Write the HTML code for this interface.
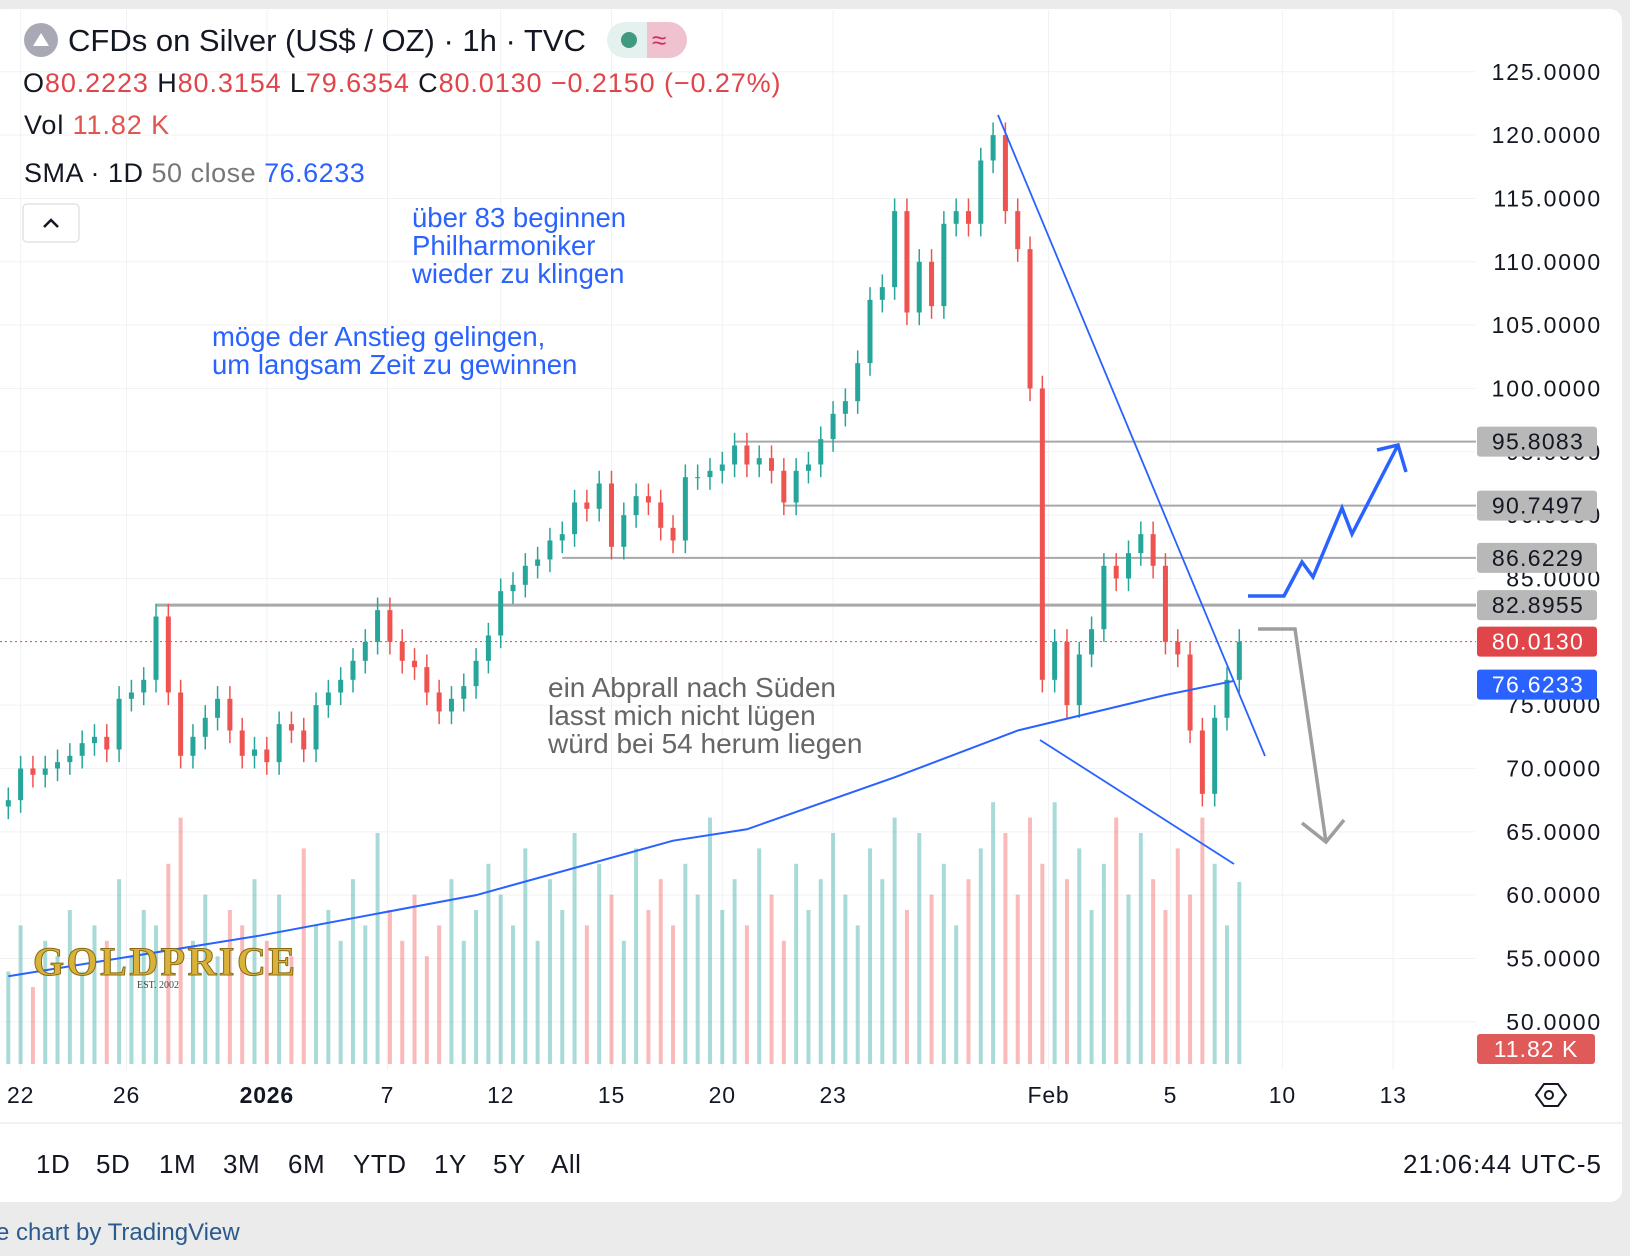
<!DOCTYPE html>
<html><head><meta charset="utf-8"><style>
body{margin:0;background:#ebebeb;width:1630px;height:1256px;overflow:hidden;font-family:"Liberation Sans",sans-serif}
svg{position:absolute;left:0;top:0}
</style></head><body>
<svg id="c" width="1630" height="1256" xmlns="http://www.w3.org/2000/svg">
<rect x="0" y="0" width="1630" height="1256" fill="#ebebeb"/>
<rect x="-10" y="9" width="1632" height="1193" rx="12" fill="#fff"/>
<g id="grid"></g>
<g id="vol"></g>
<g id="hl"></g>
<g id="candles"></g>
<g id="draw"></g>
<g id="axis"></g>
<g id="taxis"></g>
<g font-size="31">
<circle cx="41" cy="40" r="17" fill="#a9a9b5"/>
<path d="M33 46 L41 33 L49 46 Z" fill="#fff"/>
<text x="68" y="51" fill="#131722">CFDs on Silver (US$ / OZ) · 1h · TVC</text>
<rect x="607" y="22" width="80" height="36" rx="18" fill="#e4f1ee"/>
<path d="M647 22 h22 a18 18 0 0 1 0 36 h-22 Z" fill="#f0c2cf"/>
<circle cx="629" cy="40" r="8" fill="#3f9a80"/>
<text x="652" y="49" fill="#cc2f5f" font-size="26">≈</text>
</g>
<g font-size="27" letter-spacing="0.9">
<text x="23" y="92" fill="#131722">O<tspan fill="#e0454a">80.2223</tspan> H<tspan fill="#e0454a">80.3154</tspan> L<tspan fill="#e0454a">79.6354</tspan> C<tspan fill="#e0454a">80.0130</tspan> <tspan fill="#e0454a">−0.2150 (−0.27%)</tspan></text>
<text x="24" y="134" fill="#131722">Vol  <tspan fill="#e0554f">11.82 K</tspan></text>
<text x="24" y="182" fill="#131722" letter-spacing="0.5">SMA · 1D <tspan fill="#777">50 close</tspan>  <tspan fill="#2962ff">76.6233</tspan></text>
</g>
<rect x="23" y="204" width="56" height="38" rx="4" fill="#fff" stroke="#d6d6d6"/>
<path d="M44 227 L51 220 L58 227" fill="none" stroke="#131722" stroke-width="2.5"/>
<g font-size="27.5" fill="#2962ff">
<text x="412" y="227">über 83 beginnen</text><text x="412" y="255">Philharmoniker</text><text x="412" y="283">wieder zu klingen</text>
</g>
<g font-size="27.5" fill="#2962ff">
<text x="212" y="346">möge der Anstieg gelingen,</text><text x="212" y="374">um langsam Zeit zu gewinnen</text>
</g>
<g font-size="28" fill="#666">
<text x="548" y="697">ein Abprall nach Süden</text><text x="548" y="725">lasst mich nicht lügen</text><text x="548" y="753">würd bei 54 herum liegen</text>
</g>
<g>
<text x="33" y="975" font-family="Liberation Serif,serif" font-weight="bold" font-size="40" fill="#d9b23a" stroke="#8a6a12" stroke-width="1" textLength="262">GOLDPRICE</text>
<text x="137" y="988" font-family="Liberation Serif,serif" font-size="10" fill="#444">EST. 2002</text>
</g>
<line x1="0" y1="1123" x2="1622" y2="1123" stroke="#e0e3eb"/>
<g font-size="26" fill="#131722" letter-spacing="0.5">
<text x="36" y="1173">1D</text>
<text x="96" y="1173">5D</text>
<text x="159" y="1173">1M</text>
<text x="223" y="1173">3M</text>
<text x="288" y="1173">6M</text>
<text x="353" y="1173">YTD</text>
<text x="434" y="1173">1Y</text>
<text x="493" y="1173">5Y</text>
<text x="551" y="1173">All</text>
<text x="1602" y="1173" text-anchor="end" letter-spacing="1">21:06:44 UTC-5</text>
</g>
<text x="-4" y="1240" font-size="24" fill="#2a5b8c">e chart by TradingView</text>
<g><path d="M1536 1095 l8 -11 h14 l8 11 l-8 11 h-14 z" fill="none" stroke="#131722" stroke-width="2"/><circle cx="1549" cy="1095" r="4" fill="none" stroke="#131722" stroke-width="2"/></g>
</svg>
<script>
const closes=[67.5,70,69.5,70,70.5,71,72,72.5,71.5,75.5,76,77,82,76,71,72.5,74,75.5,73,71,71.5,70.5,73.5,73,71.5,75,76,77,78.5,80,82.5,80,78.5,78,76,74.5,75.5,76.5,78.5,80.5,84,84.5,86,86.5,88,88.5,91,90.5,92.5,87.5,90,91.5,91,89,88,93,93,93.5,94,95.5,94,94.5,93.5,91,93.5,94,96,98,99,102,107,108,114,106,110,106.5,113,114,113,118,120,114,111,100,77,80,75,79,81,86,85,87,88.5,86,80,79,73,68,74,77,80];
const volumes=[6,9,5,8,7,10,6,9,8,12,7,10,9,13,16,8,11,7,10,9,12,8,11,7,14,9,10,8,12,9,15,10,8,11,7,9,12,8,10,13,11,9,14,8,12,10,15,9,13,11,8,14,10,12,9,13,11,16,10,12,9,14,11,8,13,10,12,15,11,9,14,12,16,10,15,11,13,9,12,14,17,15,11,16,13,17,12,14,10,13,16,11,15,12,10,14,11,16,13,9,11.82];
const smaIdx=[0,20.4,38,54,60,72,82,94,99.5];
const smaVal=[53.6,56.8,60,64.3,65.2,69.3,73,75.8,76.9];
const priceTicks=[125,120,115,110,105,100,95,90,85,75,70,65,60,55,50];
const levelVals=[95.8083,90.7497,86.6229,82.8955];
const levelStartIdx=[59,63,45,12];
const dateLabels=["22","26","2026","7","12","15","20","23","Feb","5","10","13"];
const dateIdx=[1,9.6,21,30.8,40,49,58,67,84.5,94.4,103.5,112.5];
const lastPrice=80.013, smaLast=76.6233, lastVol=11.82;

const NS="http://www.w3.org/2000/svg";
const py=p=>71.8+(125-p)*12.667;
const px=i=>8.3+12.31*i;
const vy=v=>1064-v*15.4;
function mk(parent,tag,attrs){const e=document.createElementNS(NS,tag);for(const k in attrs)e.setAttribute(k,attrs[k]);document.getElementById(parent).appendChild(e);return e;}

priceTicks.forEach(t=>{const l=mk('grid','line',{x1:0,x2:1475,y1:py(t),y2:py(t),stroke:'#f0f2f5'});


const tx=mk('axis','text',{x:1602,y:py(t)+8,'text-anchor':'end','font-size':23,'letter-spacing':1.8,fill:'#131722'});tx.textContent=t.toFixed(4);

});
dateIdx.forEach((d,k)=>{const l=mk('grid','line',{x1:px(d),x2:px(d),y1:10,y2:1070,stroke:'#f0f2f5'});


const t=mk('taxis','text',{x:px(d),y:1103,'text-anchor':'middle','font-size':23,'letter-spacing':0.8,fill:'#131722','font-weight':dateLabels[k]==='2026'?'bold':'normal'});t.textContent=dateLabels[k];

});

volumes.forEach((v,i)=>{const up=i===0||closes[i]>=closes[i-1];const r=mk('vol','rect',{x:px(i)-2,y:vy(v),width:4,height:1064-vy(v),fill:up?'#26a69a':'#ef5350',opacity:0.4});

});

levelVals.forEach((v,k)=>{const l=mk('hl','line',{x1:px(levelStartIdx[k]),x2:1476,y1:py(v),y2:py(v),stroke:'#a8a8a8','stroke-width':k===3?3:2});

});
const dl=mk('hl','line',{x1:0,x2:1476,y1:py(lastPrice),y2:py(lastPrice),stroke:'#e0454a','stroke-dasharray':'2 3'});



closes.forEach((c,i)=>{const o=i?closes[i-1]:c-0.5;const up=c>=o;const col=up?'#26a69a':'#ef5350';
const w=mk('candles','line',{x1:px(i),x2:px(i),y1:py(Math.max(o,c)+1),y2:py(Math.min(o,c)-1),stroke:col,'stroke-width':1.5});


const b=mk('candles','rect',{x:px(i)-2.5,y:py(Math.max(o,c)),width:5,height:Math.max(1,Math.abs(py(o)-py(c))),fill:col});

});

const sp=mk('draw','polyline',{points:smaIdx.map((d,k)=>px(d)+','+py(smaVal[k])).join(' '),fill:'none',stroke:'#2962ff','stroke-width':2});


[[998,115,1265,756],[1040,740,1234,864]].forEach(s=>{const l=mk('draw','line',{x1:s[0],y1:s[1],x2:s[2],y2:s[3],stroke:'#2962ff','stroke-width':1.8});

});
const ba=mk('draw','polyline',{points:'1248,596 1284,596 1302,562 1313,577 1342,508 1352,534 1398,445',fill:'none',stroke:'#2962ff','stroke-width':3.5});


const bh=mk('draw','polyline',{points:'1377,450 1398,445 1406,472',fill:'none',stroke:'#2962ff','stroke-width':3.5});


const ga=mk('draw','polyline',{points:'1258,629 1295,629 1326,842',fill:'none',stroke:'#9e9e9e','stroke-width':3.5});


const gh=mk('draw','polyline',{points:'1302,823 1326,842 1344,820',fill:'none',stroke:'#9e9e9e','stroke-width':3.5});



function label(val,txt,bg,fg,w){const y=py(val);
const r=mk('axis','rect',{x:1477,y:y-15,width:w||120,height:30,rx:3,fill:bg});


const t=mk('axis','text',{x:1538,y:y+8,'text-anchor':'middle','font-size':23,'letter-spacing':1.3,fill:fg});t.textContent=txt;

}
levelVals.forEach(v=>label(v,v.toFixed(4),'#b8b8b8','#131722'));
label(lastPrice,lastPrice.toFixed(4),'#e0454a','#fff');
label(smaLast,smaLast.toFixed(4),'#2962ff','#fff');
const vr=mk('axis','rect',{x:1477,y:1034,width:118,height:30,rx:3,fill:'#e05a5a'});


const vt=mk('axis','text',{x:1536,y:1057,'text-anchor':'middle','font-size':23,'letter-spacing':1,fill:'#fff'});vt.textContent=lastVol.toFixed(2)+' K';


</script>
</body></html>
